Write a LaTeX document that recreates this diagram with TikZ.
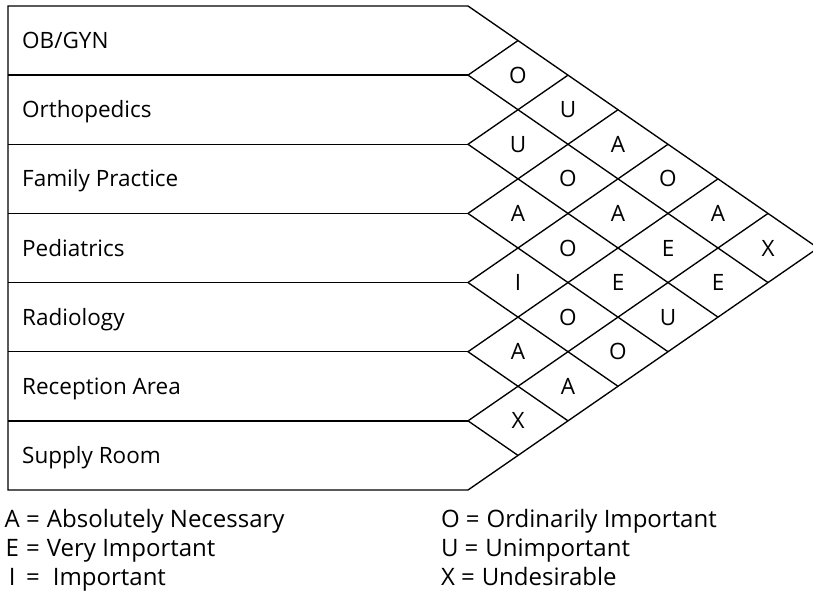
\documentclass[tikz,border=0pt]{standalone}
\usepackage{fontspec}
\setmainfont{Open Sans}
\begin{document}
\begin{tikzpicture}[x=1pt,y=-1pt,
  chart/.style={line width=1.35pt, line join=miter},
  txt/.style={inner sep=0pt, font=\fontsize{22.5}{27}\selectfont},
  rowlabel/.style={txt, anchor=base west},
  rating/.style={txt, anchor=base},
  legend/.style={inner sep=0pt, anchor=base west, font=\fontsize{24}{28}\selectfont}]
\useasboundingbox (0,0) rectangle (813,594);
% half height of a cell, half width of a cell, left edge, first tip column, top edge
\def\hh{34.571}
\def\ww{50}
\def\xl{8}
\def\xt{468}
\def\yt{6}
% row boundaries: left end E_k and right end L_k
\foreach \k in {0,...,7}{
  \coordinate (E\k) at (\xl, {\yt+2*\hh*\k});
  \coordinate (L\k) at (\xt, {\yt+2*\hh*\k});
}
\coordinate (apex) at ({\xt+7*\ww}, {\yt+7*\hh});
% outline of the chart
\draw[chart] (E0) -- (L0) -- (apex) -- (L7) -- (E7) -- cycle;
% row separators and the diamond lattice
\foreach \k in {1,...,6}{
  \draw[chart] (E\k) -- (L\k);
  \draw[chart] (L\k) -- ++({(7-\k)*\ww}, {(7-\k)*\hh});
  \draw[chart] (L\k) -- ++({\k*\ww}, {-\k*\hh});
}
% department names
\foreach \name [count=\i] in {OB/GYN, Orthopedics, Family Practice, Pediatrics, Radiology, Reception Area, Supply Room}
  \node[rowlabel] (row\i) at (22, {\yt+(2*\i-1)*\hh+8}) {\name};
% closeness ratings for each pair of departments
\foreach \i/\j/\r in {1/2/O, 1/3/U, 1/4/A, 1/5/O, 1/6/A, 1/7/X,
                      2/3/U, 2/4/O, 2/5/A, 2/6/E, 2/7/E,
                      3/4/A, 3/5/O, 3/6/E, 3/7/U,
                      4/5/I, 4/6/O, 4/7/O,
                      5/6/A, 5/7/A,
                      6/7/X}
  \node[rating] (r\i\j) at ({\xt+(\j-\i)*\ww}, {\yt+(\i+\j-1)*\hh+8}) {\r};
% legend
\node[legend] (keyA) at (4, 527) {\makebox[16pt]{A}\hspace{6pt}=\hspace{7pt}Absolutely Necessary};
\node[legend] (keyE) at (4, 556) {\makebox[16pt]{E}\hspace{6pt}=\hspace{7pt}Very Important};
\node[legend] (keyI) at (4, 585) {\makebox[16pt]{I}\hspace{6pt}=\hspace{13pt}Important};
\node[legend] (keyO) at (441, 527) {O\hspace{6pt}=\hspace{7pt}Ordinarily Important};
\node[legend] (keyU) at (441, 556) {U\hspace{6pt}=\hspace{7pt}Unimportant};
\node[legend] (keyX) at (441, 585) {X\hspace{6pt}=\hspace{7pt}Undesirable};
\end{tikzpicture}
\end{document}
